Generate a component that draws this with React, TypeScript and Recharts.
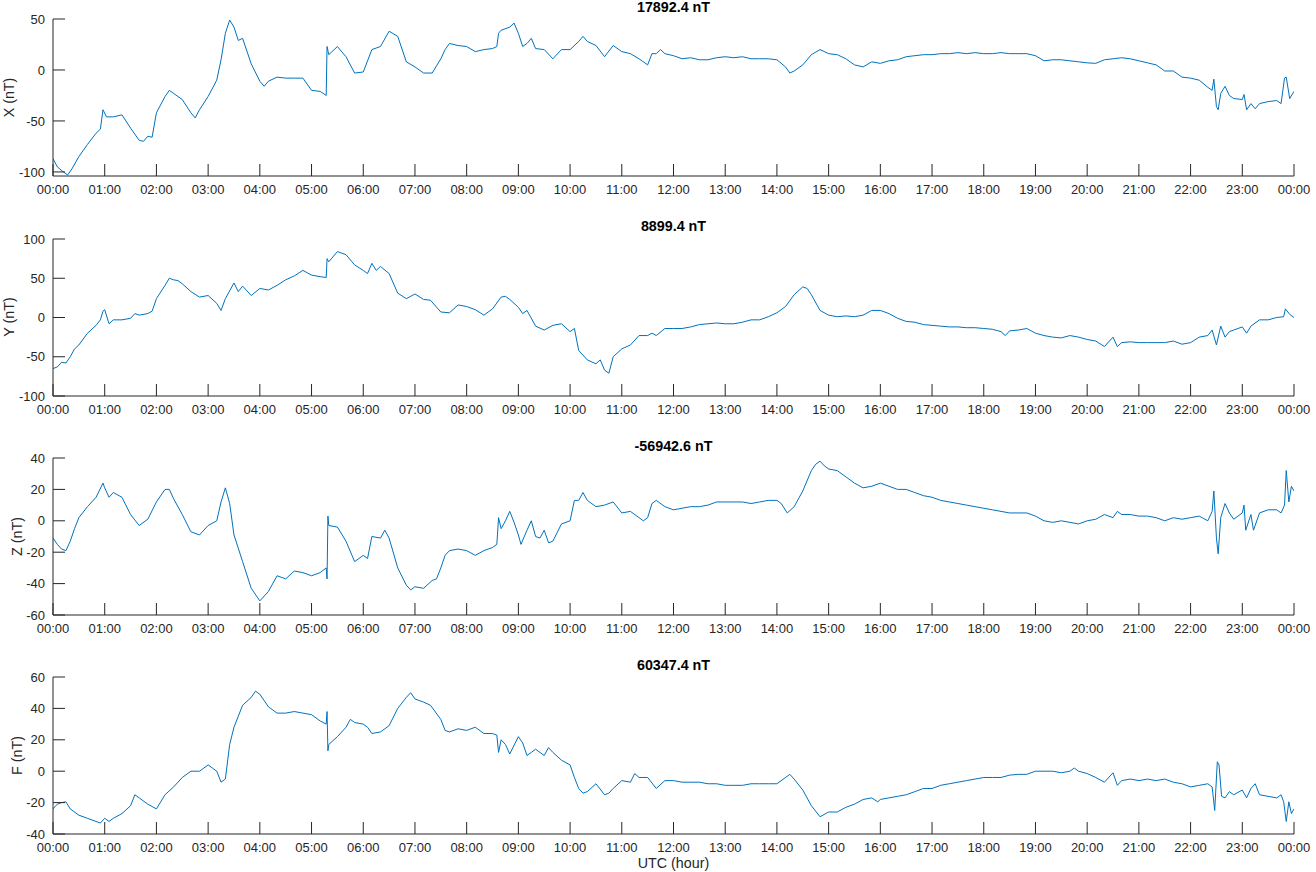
import { LineChart, Line, XAxis, YAxis } from 'recharts';

// Minutes since 00:00 UTC, one tick per hour
const hourTicks = [
  0, 60, 120, 180, 240, 300, 360, 420, 480, 540, 600, 660, 720,
  780, 840, 900, 960, 1020, 1080, 1140, 1200, 1260, 1320, 1380, 1440,
];

const fmtHour = (m: number) => String(Math.floor(m / 60) % 24).padStart(2, '0') + ':00';

// X component (nT, offset from 17892.4)
const xTimes = [
  0, 5, 12, 17, 22, 30, 40, 50, 55, 58, 62, 70, 80, 90, 100, 105, 110, 115, 120, 130,
  135, 140, 150, 160, 165, 170, 180, 190, 195, 200, 205, 210, 215, 220, 230, 240, 245, 250, 260, 270,
  280, 290, 300, 310, 317, 318, 320, 330, 340, 350, 360, 370, 380, 390, 400, 410, 420, 430, 440, 450,
  455, 460, 470, 480, 490, 500, 510, 515, 517, 520, 530, 535, 540, 545, 550, 555, 560, 570, 580, 590,
  600, 610, 615, 620, 630, 640, 650, 660, 670, 680, 690, 695, 700, 705, 710, 720, 730, 740, 750, 760,
  770, 780, 790, 800, 810, 820, 830, 840, 850, 855, 860, 870, 880, 890, 900, 910, 920, 930, 940, 950,
  960, 970, 980, 990, 1000, 1010, 1020, 1030, 1040, 1050, 1060, 1070, 1080, 1090, 1100, 1110, 1120, 1130, 1140, 1150,
  1160, 1170, 1180, 1190, 1200, 1210, 1220, 1230, 1240, 1250, 1260, 1270, 1280, 1290, 1300, 1310, 1320, 1330, 1340, 1345,
  1347, 1350, 1352, 1355, 1360, 1365, 1370, 1380, 1382, 1385, 1390, 1395, 1400, 1410, 1420, 1425, 1429, 1431, 1435, 1440,
];
const xValues = [
  -87, -95, -100, -103, -97, -85, -73, -62, -58, -39, -46, -46, -44, -57, -69, -70, -65, -66, -42, -26,
  -20, -23, -29, -42, -47, -39, -26, -10, 10, 36, 49, 42, 29, 31, 6, -11, -16, -11, -7, -8,
  -8, -8, -20, -21, -25, 23, 15, 23, 13, -3, -2, 20, 23, 38, 33, 8, 3, -3, -3, 11,
  20, 26, 24, 23, 18, 20, 21, 23, 36, 39, 42, 46, 36, 23, 26, 31, 21, 20, 11, 20,
  20, 28, 33, 28, 24, 13, 24, 18, 16, 11, 5, 16, 16, 20, 16, 14, 11, 12, 10, 10,
  12, 13, 12, 13, 11, 11, 11, 10, 3, -3, -1, 5, 15, 20, 16, 15, 11, 5, 3, 8,
  6.5, 9, 10, 13, 14, 15, 15, 16, 16, 17, 16, 17, 16, 16, 17, 16, 16, 16, 14, 9,
  10, 10, 9, 8, 7, 6.5, 10, 11, 12, 11, 9, 7, 5, -1, -1, -7, -8, -10, -17, -20,
  -9, -36, -39, -23, -16, -25, -28, -29, -24, -39, -33, -38, -33, -31, -30, -33, -8, -7, -28, -21,
];

// Y component (nT, offset from 8899.4)
const yTimes = [
  0, 5, 10, 15, 20, 25, 30, 40, 50, 55, 58, 60, 65, 70, 80, 90, 95, 100, 110, 115,
  120, 130, 135, 140, 145, 150, 160, 170, 180, 190, 195, 200, 210, 215, 220, 230, 240, 250, 260, 270,
  280, 290, 295, 300, 310, 317, 318, 320, 330, 340, 350, 360, 365, 370, 375, 380, 390, 400, 410, 420,
  430, 438, 450, 460, 470, 480, 490, 500, 510, 520, 525, 530, 540, 545, 550, 560, 570, 580, 590, 600,
  605, 610, 620, 630, 635, 640, 645, 650, 660, 670, 680, 690, 695, 700, 710, 720, 730, 740, 750, 760,
  770, 780, 790, 800, 810, 820, 830, 840, 850, 860, 870, 875, 880, 890, 900, 910, 920, 930, 940, 950,
  960, 970, 980, 990, 1000, 1010, 1020, 1030, 1040, 1050, 1060, 1070, 1080, 1090, 1100, 1105, 1110, 1120, 1130, 1140,
  1150, 1160, 1170, 1180, 1190, 1200, 1210, 1220, 1230, 1235, 1240, 1250, 1260, 1270, 1280, 1290, 1300, 1310, 1320, 1330,
  1340, 1345, 1350, 1355, 1360, 1365, 1370, 1380, 1385, 1390, 1400, 1410, 1420, 1428, 1430, 1435, 1440,
];
const yValues = [
  -65, -63, -57, -58, -50, -40, -35, -20, -10, -3, 8, 10, -8, -3, -3, -1, 5, 3, 5, 8,
  24, 41, 50, 48, 47, 43, 33, 26, 28, 18, 9, 24, 44, 33, 40, 28, 37, 35, 41, 48,
  53, 60, 57, 54, 52, 51, 75, 71, 84, 80, 67, 60, 56, 69, 60, 65, 56, 31, 24, 30,
  23, 22, 7, 6, 16, 14, 10, 3, 11, 26, 27, 23, 13, 5, 9, -11, -16, -10, -8, -18,
  -14, -42, -54, -59, -54, -67, -71, -50, -40, -35, -23, -23, -20, -23, -14, -14, -14, -12, -9, -8,
  -7, -8, -8, -6, -3, -3, 1, 6, 14, 29, 39, 37, 29, 9, 3, 1, 2, 1, 3, 9,
  9, 5, -1, -5, -6, -9, -10, -11, -12, -12, -13, -13, -14, -15, -18, -23, -17, -16, -14, -20,
  -23, -25, -26, -23, -25, -28, -30, -37, -25, -37, -32, -31, -32, -32, -32, -32, -30, -34, -32, -25,
  -23, -16, -35, -11, -25, -18, -16, -12, -20, -11, -3, -3, 0, 1, 11, 4, 0,
];

// Z component (nT, offset from -56942.6)
const zTimes = [
  0, 5, 10, 15, 20, 25, 30, 40, 50, 58, 60, 65, 70, 80, 90, 100, 110, 120, 130, 135,
  140, 150, 160, 170, 180, 190, 195, 200, 205, 210, 220, 230, 240, 250, 260, 270, 280, 290, 300, 310,
  317, 318, 319, 320, 330, 340, 350, 360, 365, 370, 380, 385, 390, 400, 410, 415, 420, 430, 440, 445,
  450, 455, 460, 470, 480, 490, 500, 510, 515, 517, 520, 525, 530, 535, 540, 543, 550, 555, 560, 565,
  570, 575, 580, 590, 600, 605, 610, 615, 620, 630, 640, 650, 660, 670, 680, 685, 690, 695, 700, 710,
  720, 730, 740, 750, 760, 770, 780, 790, 800, 810, 820, 830, 840, 845, 852, 860, 870, 880, 885, 890,
  895, 900, 910, 920, 930, 940, 950, 960, 970, 980, 990, 1000, 1010, 1020, 1030, 1040, 1050, 1060, 1070, 1080,
  1090, 1100, 1110, 1120, 1130, 1140, 1150, 1160, 1170, 1180, 1190, 1200, 1210, 1220, 1230, 1235, 1240, 1250, 1260, 1270,
  1280, 1290, 1300, 1310, 1320, 1330, 1340, 1345, 1347, 1350, 1352, 1355, 1360, 1365, 1370, 1380, 1382, 1384, 1390, 1393,
  1400, 1410, 1420, 1425, 1429, 1431, 1434, 1437, 1440,
];
const zValues = [
  -11, -15, -18, -19, -13, -5, 2, 9, 15, 24, 21, 15, 18, 15, 4, -3, 1, 12, 20, 20,
  14, 4, -7, -9, -3, 0, 12, 21, 11, -9, -26, -43, -51, -45, -35, -37, -32, -33, -35, -33,
  -30, -37, 3, -3, -4, -13, -26, -22, -24, -10, -11, -6, -11, -30, -41, -44, -42, -43, -38, -37,
  -30, -22, -19, -18, -19, -22, -19, -17, -15, 2, -5, 0, 6, -1, -9, -15, -6, 0, -10, -11,
  -6, -14, -13, -2, 0, 13, 13, 18, 13, 9, 10, 12, 5, 6, 2, 0, 2, 11, 13, 9,
  7, 8, 9, 9, 10, 12, 12, 12, 12, 11, 12, 13, 13, 11, 5, 9, 19, 32, 36, 38,
  35, 33, 32, 28, 24, 21, 22, 24, 22, 20, 20, 18, 16, 15, 13, 12, 11, 10, 9, 8,
  7, 6, 5, 5, 5, 3, 0, -1, 0, -1, -2, 0, 1, 4, 2, 6, 4, 4, 3, 3,
  2, 0, 2, 1, 2, 3, 0, 6, 19, -11, -21, 2, 11, 5, 1, 5, 10, -6, 4, -6,
  5, 7, 7, 5, 10, 32, 12, 22, 19,
];

// F total field (nT, offset from 60347.4)
const fTimes = [
  0, 5, 10, 15, 20, 30, 40, 50, 55, 60, 65, 70, 80, 90, 95, 100, 110, 120, 130, 140,
  150, 160, 170, 180, 185, 190, 195, 200, 205, 210, 220, 230, 235, 240, 250, 260, 270, 280, 290, 300,
  310, 317, 318, 319, 320, 330, 340, 345, 350, 360, 365, 370, 380, 390, 400, 410, 415, 420, 430, 438,
  450, 455, 460, 470, 480, 490, 500, 510, 515, 517, 520, 525, 530, 540, 545, 550, 555, 560, 565, 570,
  575, 580, 590, 600, 605, 610, 615, 620, 630, 640, 645, 650, 660, 670, 675, 680, 690, 700, 710, 720,
  730, 740, 750, 760, 770, 780, 790, 800, 810, 820, 830, 840, 850, 855, 860, 870, 880, 890, 900, 910,
  920, 930, 940, 950, 957, 960, 970, 980, 990, 1000, 1010, 1020, 1030, 1040, 1050, 1060, 1070, 1080, 1090, 1100,
  1110, 1120, 1130, 1140, 1150, 1160, 1170, 1180, 1185, 1190, 1200, 1210, 1220, 1230, 1235, 1240, 1250, 1260, 1270, 1280,
  1290, 1300, 1310, 1320, 1330, 1340, 1345, 1348, 1351, 1353, 1356, 1360, 1365, 1370, 1380, 1385, 1390, 1395, 1400, 1410,
  1420, 1425, 1428, 1431, 1434, 1437, 1440,
];
const fValues = [
  -24, -21, -20, -19.5, -24, -28, -30, -32, -33, -30, -32, -30, -27, -22, -15, -17, -21, -24, -15, -10,
  -4, 0, 0, 4, 2, 0, -7, -5, 17, 28, 42, 47, 51, 49, 41, 37, 37, 38, 37, 36,
  32, 30, 38, 13, 17, 22, 28, 33, 31, 30, 28, 24, 25, 29, 40, 47, 50, 46, 44, 42,
  33, 26, 25, 27, 26, 28, 24, 24, 23, 12, 20, 17, 11, 22, 18, 10, 12, 14, 12, 10,
  15, 12, 7, 4, -4, -11, -14, -13, -8, -15, -14, -11, -6, -7, -1.5, -4, -4, -11, -6, -6,
  -7, -7, -7, -8, -8, -9, -9, -9, -8, -8, -8, -8, -4, -2, -5, -12, -22, -29, -26, -26,
  -23, -21, -18, -17, -19.5, -18, -17, -16, -15, -13, -11, -11, -9, -8, -7, -6, -5, -4, -4, -4,
  -2.5, -2, -2, 0, 0, 0, -1, 0, 2, 0, -1.5, -4, -7, -1, -9, -6, -5, -6, -5, -6,
  -5, -7, -8, -10, -9, -8, -10, -25, 6, 4, -16, -17, -13, -15, -12, -17, -11, -8, -15, -16,
  -17, -15, -19.5, -32, -19.5, -27, -24,
];

const axisColor = '#262626';
const fontFamily = '"Liberation Sans", Arial, Helvetica, sans-serif';
const tickStyle = { fill: axisColor, fontSize: 13, fontFamily };

const PLOT_H = 157;
const TOP_PAD = 19;

const panels = [
  { id: 'X', title: '17892.4 nT', label: 'X (nT)', times: xTimes, values: xValues, domain: [-104, 50], ticks: [-100, -50, 0, 50], top: 19, labelX: 9 },
  { id: 'Y', title: '8899.4 nT', label: 'Y (nT)', times: yTimes, values: yValues, domain: [-100, 100], ticks: [-100, -50, 0, 50, 100], top: 238.5, labelX: 9 },
  { id: 'Z', title: '-56942.6 nT', label: 'Z (nT)', times: zTimes, values: zValues, domain: [-60, 40], ticks: [-60, -40, -20, 0, 20, 40], top: 458, labelX: 17 },
  { id: 'F', title: '60347.4 nT', label: 'F (nT)', times: fTimes, values: fValues, domain: [-40, 60], ticks: [-40, -20, 0, 20, 40, 60], top: 677, labelX: 17 },
];

function Panel({ p }: { p: (typeof panels)[number] }) {
  const data = p.times.map((t, i) => ({ t, v: p.values[i] }));
  return (
    <div style={{ position: 'absolute', left: 0, top: p.top - TOP_PAD }}>
      <LineChart width={1316} height={TOP_PAD + PLOT_H + 30} data={data} margin={{ top: TOP_PAD, right: 22, bottom: 0, left: 0 }}>
        <XAxis
          dataKey="t"
          type="number"
          domain={[0, 1440]}
          ticks={hourTicks}
          interval={0}
          tickFormatter={fmtHour}
          tickSize={-12}
          tickMargin={21}
          height={30}
          stroke={axisColor}
          tick={tickStyle}
          allowDataOverflow
        />
        <XAxis
          xAxisId="top"
          orientation="top"
          dataKey="t"
          type="number"
          domain={[0, 1440]}
          ticks={hourTicks}
          interval={0}
          tickFormatter={() => ''}
          tickSize={-12}
          height={0}
          stroke={axisColor}
          allowDataOverflow
        />
        <YAxis
          dataKey="v"
          type="number"
          domain={p.domain}
          ticks={p.ticks}
          interval={0}
          tickSize={-12}
          tickMargin={20}
          width={53}
          stroke={axisColor}
          tick={tickStyle}
          allowDataOverflow
        />
        <YAxis
          yAxisId="right"
          orientation="right"
          dataKey="v"
          type="number"
          domain={p.domain}
          ticks={p.ticks}
          interval={0}
          tickFormatter={() => ''}
          tickSize={-12}
          width={0}
          stroke={axisColor}
          allowDataOverflow
        />
        <Line dataKey="v" type="linear" stroke="#0072BD" strokeWidth={1} dot={false} isAnimationActive={false} />
      </LineChart>
    </div>
  );
}

export default function App() {
  return (
    <div style={{ position: 'absolute', left: 0, top: 0, width: 1316, height: 872, background: '#fff' }}>
      {panels.map((p) => (
        <Panel key={p.id} p={p} />
      ))}
      <svg width={1316} height={872} style={{ position: 'absolute', left: 0, top: 0, pointerEvents: 'none' }}>
        {panels.map((p) => (
          <g key={p.id} fontFamily={fontFamily}>
            <text x={673.5} y={p.top - 7.5} textAnchor="middle" fontSize={14.3} fontWeight="bold" fill="#000">
              {p.title}
            </text>
            <text
              x={p.labelX + 5}
              y={p.top + PLOT_H / 2}
              transform={`rotate(-90 ${p.labelX + 5} ${p.top + PLOT_H / 2})`}
              textAnchor="middle"
              fontSize={14.3}
              fill={axisColor}
            >
              {p.label}
            </text>
          </g>
        ))}
        <text x={673.5} y={868} textAnchor="middle" fontSize={14.3} fontFamily={fontFamily} fill={axisColor}>
          UTC (hour)
        </text>
      </svg>
    </div>
  );
}
